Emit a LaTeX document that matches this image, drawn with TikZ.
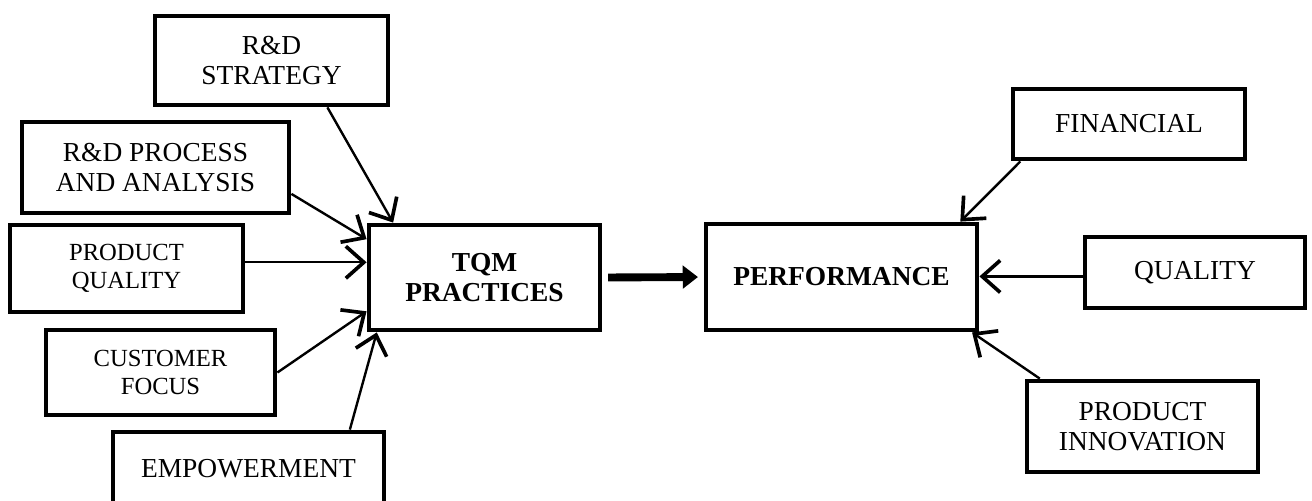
\documentclass[tikz,border=0pt]{standalone}
\usepackage{fontspec}
\setmainfont{Liberation Serif}
\usetikzlibrary{arrows.meta}
\tikzset{
    box/.style={
        rectangle,
        draw=black,
        line width=3.4pt,
        align=center,
        inner sep=0pt,
        font=\fontsize{19.5}{21.5}\selectfont
    },
    small box/.style={
        box,
        font=\fontsize{17.5}{20}\selectfont
    },
    arrow/.style={
        -{Straight Barb[length=4.5mm,width=8mm,line width=2.6pt]},
        line width=1.7pt,
        draw=black
    },
    main arrow/.style={
        -{Triangle[length=3.8mm,width=5.6mm]},
        line width=5.6pt,
        draw=black
    }
}

\begin{document}
\begin{tikzpicture}[x=0.025cm,y=-0.025cm]
    \useasboundingbox (0,0) rectangle (1312,500);

    % Factors feeding the TQM practices
    \node[box, minimum width=5.825cm, minimum height=2.225cm] (strategy) at (271.5,60.5) {R\&D\\STRATEGY};
    \node[box, minimum width=6.675cm, minimum height=2.275cm] (process) at (155.5,167.5) {R\&D PROCESS\\AND ANALYSIS};
    \node[small box, minimum width=5.825cm, minimum height=2.175cm] (prodquality) at (126.5,268.5) {PRODUCT\\QUALITY};
    \node[small box, minimum width=5.725cm, minimum height=2.125cm] (customer) at (160.5,372.5) {CUSTOMER\\FOCUS};
    \node[box, minimum width=6.775cm, minimum height=1.825cm] (empower) at (248.5,468.5) {EMPOWERMENT};

    % Central boxes
    \node[box, minimum width=5.775cm, minimum height=2.625cm] (tqm) at (484.5,277.5) {\textbf{TQM}\\\textbf{PRACTICES}};
    \node[box, minimum width=6.775cm, minimum height=2.65cm] (perf) at (841.5,277) {\textbf{PERFORMANCE}};

    % Performance measures
    \node[box, minimum width=5.8cm, minimum height=1.75cm] (financial) at (1129,124) {FINANCIAL};
    \node[box, minimum width=5.5cm, minimum height=1.775cm] (quality) at (1195,272.5) {QUALITY};
    \node[box, minimum width=5.775cm, minimum height=2.275cm] (innovation) at (1142.5,426.5) {PRODUCT\\INNOVATION};

    % Arrows into TQM practices
    \draw[arrow] (strategy.320) -- (tqm.149);
    \draw[arrow] (process.349) -- (tqm.162);
    \draw[arrow] (prodquality.3) -- (prodquality.3 -| tqm.west);
    \draw[arrow] (customer.east) -- (tqm.196);
    \draw[arrow] (empower.21) -- (tqm.207);

    % TQM practices to performance
    \draw[main arrow, shorten <=4pt, shorten >=4pt] (tqm.east) -- (perf.west);

    % Arrows into performance
    \draw[arrow] (financial.199) -- (perf.25);
    \draw[arrow] (quality.182) -- (quality.182 -| perf.east);
    \draw[arrow] (innovation.155) -- (perf.337);

\end{tikzpicture}
\end{document}
